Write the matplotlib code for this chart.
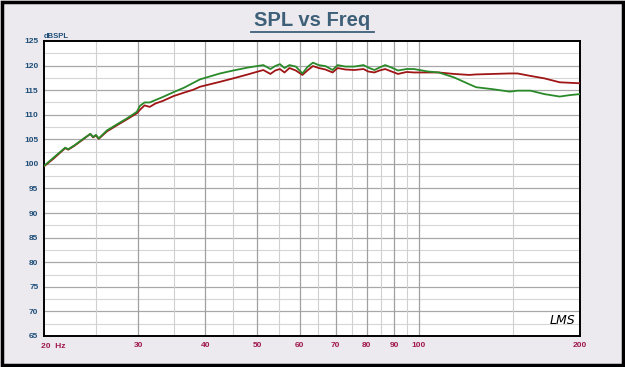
import numpy as np
import matplotlib
matplotlib.use("Agg")
import matplotlib.pyplot as plt
from matplotlib.patches import Rectangle
from matplotlib.lines import Line2D

# frequency (Hz) and SPL (dB)
freq_red = [20, 20.8, 21.9, 22.2, 22.8, 23.6, 24.4, 24.7, 25.0, 25.3, 26.2, 27.5, 28.6, 29.8,
            30.2, 30.8, 31.5, 32.3, 33.3, 34.9, 36.5, 38.0, 39.1, 42.6, 45.1, 48.0,
            51.3, 52.9, 54.0, 55.1, 56.2, 57.4, 59.0, 60.7, 62.0, 63.5, 65.1, 67.0, 69.1,
            70.6, 73.0, 75.9, 78.9, 80.5, 82.7, 84.5, 86.6, 89.0, 91.5, 95.0, 98.0,
            104.0, 109.0, 116.4, 124.3, 128.0, 137.5, 147.9, 152.9, 161.6, 171.6,
            183.3, 191.6, 200]
spl_red = [99.5, 101.0, 103.2, 102.9, 103.7, 104.9, 106.1, 105.4, 105.8, 105.1, 106.6, 108.0,
           109.1, 110.3, 111.0, 111.9, 111.6, 112.3, 112.8, 113.8, 114.5, 115.1, 115.7,
           116.7, 117.4, 118.2, 119.1, 118.3, 119.0, 119.3, 118.6, 119.5, 119.0, 118.1,
           119.0, 119.9, 119.5, 119.2, 118.6, 119.5, 119.2, 119.1, 119.3, 118.8, 118.6,
           119.0, 119.3, 118.8, 118.3, 118.7, 118.6, 118.6, 118.6, 118.3, 118.1, 118.2,
           118.3, 118.4, 118.4, 117.9, 117.4, 116.6, 116.5, 116.4]

freq_green = [20, 20.8, 21.9, 22.2, 22.8, 23.6, 24.4, 24.7, 25.0, 25.3, 26.2, 27.5, 28.6, 29.8,
              30.2, 30.8, 31.5, 32.3, 33.3, 34.9, 36.5, 38.0, 39.1, 42.6, 45.1, 48.0,
              51.3, 52.9, 54.0, 55.1, 56.2, 57.4, 59.0, 60.7, 62.0, 63.5, 65.1, 67.0, 69.1,
              70.6, 73.0, 75.9, 78.9, 80.5, 82.7, 84.5, 86.6, 89.0, 91.5, 95.0, 98.0,
              104.0, 109.0, 116.4, 124.3, 128.0, 137.5, 147.9, 152.9, 161.6, 171.6,
              183.3, 191.6, 200]
spl_green = [99.6, 101.2, 103.3, 103.0, 103.8, 105.0, 106.1, 105.5, 105.9, 105.2, 106.8, 108.2,
             109.3, 110.6, 111.8, 112.5, 112.5, 113.0, 113.6, 114.6, 115.5, 116.5, 117.2,
             118.4, 119.0, 119.6, 120.1, 119.3, 119.9, 120.3, 119.5, 120.1, 119.8, 118.4,
             119.7, 120.6, 120.1, 119.9, 119.1, 120.1, 119.8, 119.8, 120.1, 119.6, 119.1,
             119.6, 120.1, 119.6, 119.0, 119.3, 119.3, 118.8, 118.6, 117.6, 116.2, 115.6,
             115.2, 114.7, 114.9, 114.9, 114.2, 113.7, 114.0, 114.2]

y_ticks = list(range(65, 126, 5))
x_ticks = [30, 40, 50, 60, 70, 80, 90, 100, 200]
x_minor = [25, 35, 45, 55, 65, 75, 85, 95, 150]

bg = "#ECEAEE"
blue = "#1F4E79"
magenta = "#A01850"

fig = plt.figure(figsize=(6.25, 3.67), dpi=100, facecolor=bg)
ax = fig.add_axes([44 / 625, 1 - 336 / 367, 536 / 625, 295 / 367])
ax.set_facecolor("white")

ax.set_xscale("log")
ax.set_xlim(20, 200)
ax.set_ylim(65, 125)

# grid
for y in np.arange(67.5, 125, 5):
    ax.axhline(y, color="#D6D6D6", lw=0.8, zorder=1)
for y in y_ticks[1:-1]:
    ax.axhline(y, color="#A8A8A8", lw=0.9, zorder=1)
for x in x_minor:
    ax.axvline(x, color="#D0D0D0", lw=0.8, zorder=1)
for x in x_ticks[:-1]:
    ax.axvline(x, color="#A0A0A0", lw=0.9, zorder=1)

ax.plot(freq_red, spl_red, color="#A01515", lw=1.3, zorder=3)
ax.plot(freq_green, spl_green, color="#2A8A2A", lw=1.3, zorder=4)

ax.set_yticks(y_ticks)
ax.set_yticklabels([str(v) for v in y_ticks], fontsize=6, fontweight="bold",
                   color=blue, family="Liberation Sans")
ax.set_xticks(x_ticks)
ax.set_xticklabels([str(v) for v in x_ticks], fontsize=6, fontweight="bold",
                   color=magenta, family="Liberation Sans")
ax.xaxis.set_minor_locator(matplotlib.ticker.NullLocator())
ax.tick_params(axis="both", length=0, pad=4)

for s in ax.spines.values():
    s.set_color("black")
    s.set_linewidth(1.4)

fig.text(41 / 625, 1 - 347 / 367, "20  Hz", fontsize=6, fontweight="bold", color=magenta,
         family="Liberation Sans", ha="left", va="center")
fig.text(44 / 625, 1 - 36 / 367, "dBSPL", fontsize=5.5, fontweight="bold", color=blue,
         family="Liberation Sans", ha="left", va="center")

fig.text(312 / 625, 1 - 21 / 367, "SPL vs Freq", fontsize=14.5, fontweight="bold",
         color="#3E5F78", family="Liberation Sans", ha="center", va="center")
fig.add_artist(Line2D([251 / 625, 374 / 625], [1 - 32 / 367, 1 - 32 / 367],
                      color="#3E5F78", lw=1.3, transform=fig.transFigure))

ax.text(0.992, 0.03, "LMS", transform=ax.transAxes, fontsize=9, style="italic",
        family="DejaVu Sans", ha="right", va="bottom", color="black")

fig.add_artist(Rectangle((0.003, 0.005), 0.994, 0.99, transform=fig.transFigure,
                         fill=False, edgecolor="black", lw=2.5))

fig.savefig("out.png", dpi=100, facecolor=bg)
